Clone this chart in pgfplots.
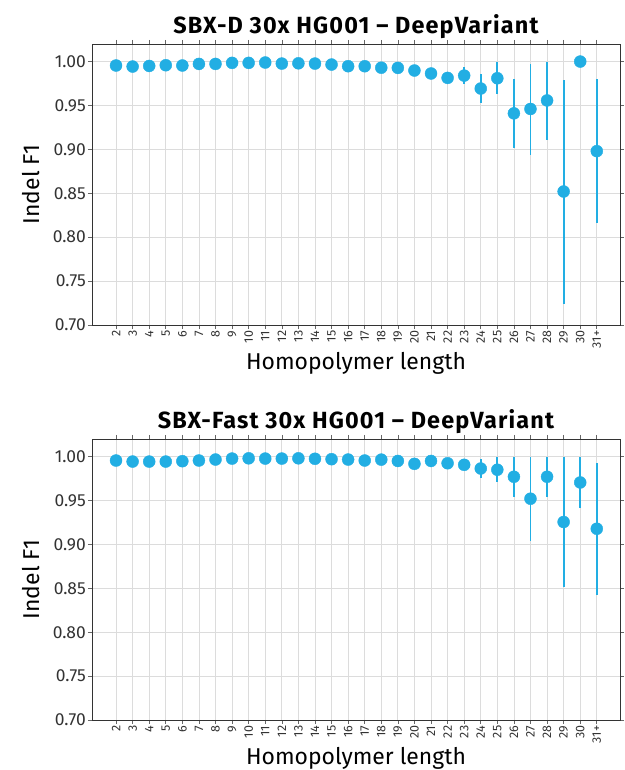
\documentclass[border=0pt]{standalone}
\usepackage{pgfplots}
\pgfplotsset{compat=1.18}
\usepackage{pgfplotstable}
\usepackage{fontspec}
\setmainfont{Fira Sans}
\newfontfamily\titlefont[LetterSpace=5]{Fira Sans}
\definecolor{dotblue}{HTML}{22AEE3}
\definecolor{gridgray}{HTML}{DCDCDC}
\pgfplotstableread{
x y ep em
0 0.9955 0 0
1 0.9943 0 0
2 0.9950 0 0
3 0.9958 0 0
4 0.9955 0 0
5 0.9973 0 0
6 0.9973 0 0
7 0.9985 0 0
8 0.9985 0 0
9 0.9989 0 0
10 0.9977 0 0
11 0.9980 0 0
12 0.9977 0 0
13 0.9966 0 0
14 0.9947 0 0
15 0.9947 0 0
16 0.9930 0 0
17 0.9928 0 0
18 0.9898 0 0
19 0.9864 0 0
20 0.9814 0.004 0.004
21 0.9840 0.010 0.010
22 0.9693 0.017 0.017
23 0.9810 0.018 0.0185
24 0.9410 0.039 0.040
25 0.9460 0.051 0.052
26 0.9557 0.044 0.045
27 0.8520 0.1275 0.128
28 1.0000 0 0
29 0.8980 0.082 0.082
}\topdata
\pgfplotstableread{
x y ep em
0 0.9955 0 0
1 0.9943 0 0
2 0.9943 0 0
3 0.9943 0 0
4 0.9947 0 0
5 0.9955 0 0
6 0.9966 0 0
7 0.9977 0 0
8 0.9980 0 0
9 0.9977 0 0
10 0.9977 0 0
11 0.9980 0 0
12 0.9975 0 0
13 0.9970 0 0
14 0.9966 0 0
15 0.9955 0 0
16 0.9965 0 0
17 0.9950 0 0
18 0.9917 0 0
19 0.9950 0 0
20 0.9924 0 0
21 0.9906 0.002 0.002
22 0.9864 0.011 0.011
23 0.9850 0.0143 0.014
24 0.9770 0.0223 0.0225
25 0.9520 0.0473 0.048
26 0.9770 0.0223 0.0225
27 0.9255 0.074 0.074
28 0.9705 0.029 0.029
29 0.9178 0.0746 0.075
}\botdata
\pgfplotsset{
  hpstyle/.style={
    scale only axis, width=528bp, height=281bp,
    xmin=-1.45, xmax=30.4, ymin=0.70, ymax=1.02,
    xtick={0,...,29},
    xticklabels={2,3,4,5,6,7,8,9,10,11,12,13,14,15,16,17,18,19,20,21,22,23,24,25,26,27,28,29,30,31+},
    x tick label style={rotate=90, anchor=east, font=\fontsize{12.5}{13}\selectfont, inner sep=1.5pt, text=black!80},
    ytick={0.70,0.75,...,1.00},
    y tick label style={/pgf/number format/.cd, fixed, fixed zerofill, precision=2, /tikz/.cd, font=\fontsize{17.5}{19}\selectfont, text=black!80, inner sep=2pt},
    /pgf/number format/assume math mode=true,
    grid=major, major grid style={gridgray, line width=0.8pt},
    tick align=outside, major tick length=4bp,
    tick style={black!60, line width=0.6pt},
    axis line style={black!80, line width=0.9pt},
    xlabel={Homopolymer length}, ylabel={Indel F1},
    label style={font=\fontsize{23}{25}\selectfont},
    title style={font=\titlefont\bfseries\fontsize{23.5}{25}\selectfont, yshift=-4pt},
    xlabel style={yshift=1pt},
    ylabel style={yshift=8pt},
  },
  dots/.style={only marks, mark=*, mark size=6bp, dotblue,
    mark options={draw=dotblue, fill=dotblue},
    error bars/.cd, y dir=both, y explicit, error mark=none,
    error bar style={dotblue, line width=1.8pt}},
}
\begin{document}
\begin{tikzpicture}
\useasboundingbox (0bp,0bp) rectangle (625bp,770bp);
\begin{axis}[hpstyle, at={(92bp,445bp)}, anchor=south west,
  title={SBX-D 30x HG001 – DeepVariant}]
\addplot[dots] table[x=x, y=y, y error plus=ep, y error minus=em] {\topdata};
\end{axis}
\begin{axis}[hpstyle, at={(92bp,50bp)}, anchor=south west,
  title={SBX-Fast 30x HG001 – DeepVariant}]
\addplot[dots] table[x=x, y=y, y error plus=ep, y error minus=em] {\botdata};
\end{axis}
\end{tikzpicture}
\end{document}
